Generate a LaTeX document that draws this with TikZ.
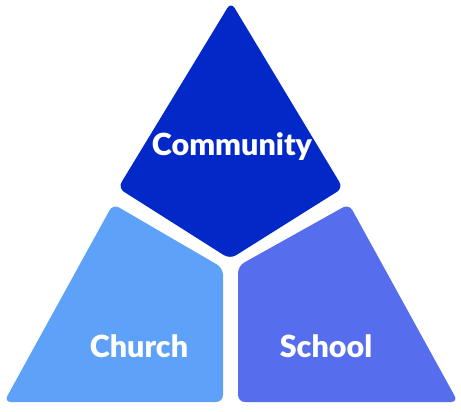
\documentclass[tikz,border=0pt]{standalone}
\usepackage{fontspec}
\newfontfamily\partfont{Lato Black}
\usetikzlibrary{positioning}

\definecolor{communityblue}{RGB}{2,40,200}
\definecolor{churchblue}{RGB}{94,161,248}
\definecolor{schoolblue}{RGB}{86,110,238}

\begin{document}
\begin{tikzpicture}[
    x=0.03cm, y=-0.03cm,
    part/.style={rounded corners=6pt},
    partname/.style={text=white, anchor=base, font=\partfont\fontsize{26}{30}\selectfont}
]
\useasboundingbox (0,0) rectangle (461,411);

% Top: Community
\fill[part, communityblue] (231,2) -- (343,188) -- (230,259) -- (118,188) -- cycle;

% Bottom left: Church
\fill[part, churchblue] (113,204) -- (223,268) -- (223,402) -- (4,402) -- cycle;

% Bottom right: School
\fill[part, schoolblue] (349,204) -- (458,402) -- (238,402) -- (238,266) -- cycle;

% Labels
\node[partname] (community) at (232,155) {Community};
\node[partname] (church) at (139,357) {Church};
\node[partname] (school) at (326,357) {School};

\end{tikzpicture}
\end{document}
